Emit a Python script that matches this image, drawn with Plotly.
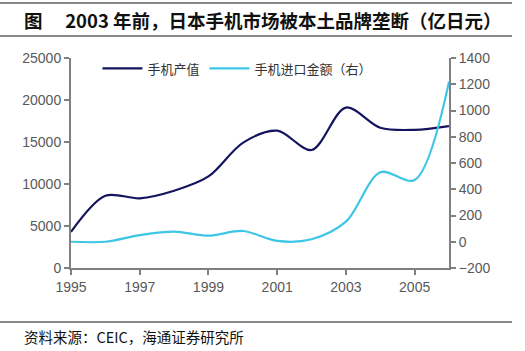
import plotly.graph_objects as go

years = [1995, 1996, 1997, 1998, 1999, 2000, 2001, 2002, 2003, 2004, 2005, 2006]
production = [4300, 8600, 8300, 9200, 10900, 14900, 16350, 14050, 19100, 16700, 16450, 16900]
imports = [0, 0, 50, 77, 46, 82, 6, 19, 153, 530, 470, 1220]
x_ticks = [1995, 1997, 1999, 2001, 2003, 2005]
y_ticks = [0, 5000, 10000, 15000, 20000, 25000]
y_labels = ["0", "5000", "10000", "15000", "20000", "25000"]
y2_ticks = [-200, 0, 200, 400, 600, 800, 1000, 1200, 1400]

NUM_FONT = "Liberation Sans, Arial, sans-serif"
CJK_FONT = "Noto Sans CJK SC, sans-serif"
TICK_COLOR = "#595959"
AXIS_COLOR = "#808080"

fig = go.Figure()
fig.add_trace(go.Scatter(x=years, y=production, name="手机产值", mode="lines",
                         line=dict(color="#14145f", width=2.2, shape="spline", smoothing=0.9)))
fig.add_trace(go.Scatter(x=years, y=imports, name="手机进口金额（右）", mode="lines", yaxis="y2",
                         line=dict(color="#3ec6e6", width=2.2, shape="spline", smoothing=0.9)))

axis_common = dict(showgrid=False, zeroline=False, showline=True, linecolor=AXIS_COLOR, linewidth=2,
                   ticks="outside", ticklen=5, tickcolor=AXIS_COLOR, tickwidth=1.5,
                   tickfont=dict(family=NUM_FONT, size=14, color=TICK_COLOR))

fig.update_layout(
    width=525, height=351,
    margin=dict(l=71, r=76, t=58, b=83),
    plot_bgcolor="white", paper_bgcolor="white",
    showlegend=True,
    legend=dict(orientation="h", x=0.07, y=0.95, xanchor="left", yanchor="middle",
                font=dict(family=CJK_FONT, size=13, color="#333333"),
                bgcolor="rgba(0,0,0,0)", itemwidth=40, tracegroupgap=0),
    xaxis=dict(range=[1995, 2006], tickvals=x_ticks, **axis_common),
    yaxis=dict(range=[0, 25000], tickvals=y_ticks, ticktext=y_labels, **axis_common),
    yaxis2=dict(range=[-200, 1400], tickvals=y2_ticks, overlaying="y", side="right", **axis_common),
)

X0 = (22 - 71) / 378

def py(px):
    return (268 - px) / 210

fig.add_annotation(text="<b>图　 2003 年前，日本手机市场被本土品牌垄断（亿日元）</b>",
                   xref="paper", yref="paper", x=X0, y=py(20),
                   xanchor="left", yanchor="middle", showarrow=False,
                   font=dict(family=CJK_FONT, size=18.5, color="#111111"))
fig.add_annotation(text="资料来源：CEIC，海通证券研究所",
                   xref="paper", yref="paper", x=X0, y=py(336),
                   xanchor="left", yanchor="middle", showarrow=False,
                   font=dict(family=CJK_FONT, size=14.5, color="#111111"))

for yy in [3, 36, 322]:
    fig.add_shape(type="line", xref="paper", yref="paper",
                  x0=-71/378, x1=(512-71)/378, y0=py(yy), y1=py(yy),
                  line=dict(color="#111111", width=1.2))

fig.write_html("out.html")
